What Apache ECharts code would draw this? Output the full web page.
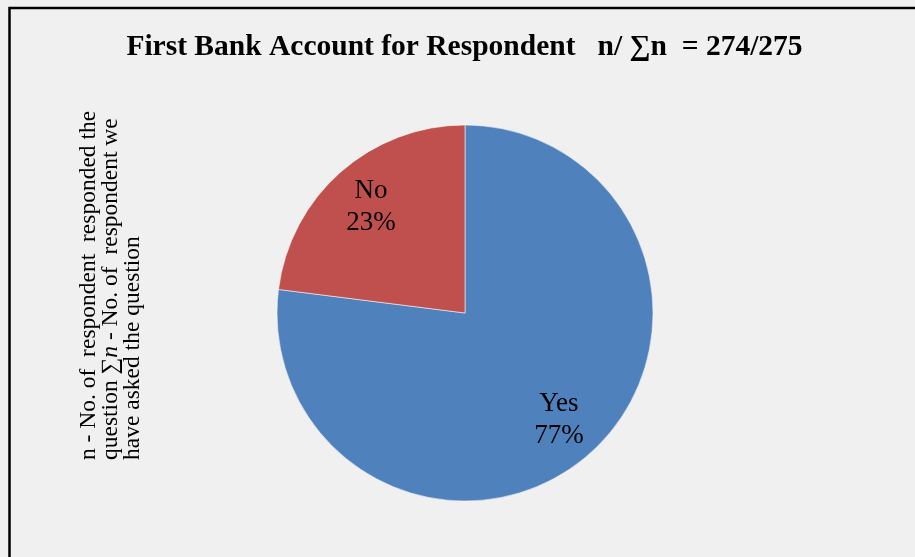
<!DOCTYPE html>
<html>
<head>
<meta charset="utf-8">
<script src="https://cdn.jsdelivr.net/npm/echarts@6/dist/echarts.min.js"></script>
<style>
  html, body { margin: 0; padding: 0; background: #f0f0f0; }
  #chart { width: 915px; height: 557px; }
</style>
</head>
<body>
<div id="chart"></div>
<script>
// Survey answers: share of respondents who have a first bank account
const categories = ['Yes', 'No'];
const shares = [77, 23];
const sliceColors = ['#4f81bd', '#c0504d'];

const titleText = 'First Bank Account for Respondent   n/ \u2211n  = 274/275';
// side note, one entry per line; {i|...} marks the italic math symbol
const noteLines = [
  '{r|n - No. of  respondent  responded the}',
  '{r|question \u2211}{i|n}{r| - No. of  respondent we}',
  '{r|have asked the question}'
];

const serif = '"Liberation Serif", "Times New Roman", serif';

const pieData = categories.map((name, i) => ({
  name: name,
  value: shares[i],
  itemStyle: { color: sliceColors[i] }
}));

const chart = echarts.init(document.getElementById('chart'), null, { renderer: 'canvas' });

const noteX = [89, 111, 133];

chart.setOption({
  backgroundColor: '#f0f0f0',
  animation: false,
  graphic: [
    {
      type: 'rect',
      shape: { x: 9.5, y: 8, width: 1000, height: 1000 },
      style: { fill: 'none', stroke: '#000', lineWidth: 2.5 },
      silent: true
    },
    {
      type: 'text',
      x: 464.5,
      y: 47.5,
      style: {
        text: titleText,
        font: 'bold 29.5px ' + serif,
        fill: '#000',
        align: 'center',
        verticalAlign: 'middle'
      },
      silent: true
    }
  ].concat(noteLines.map((line, i) => ({
    type: 'text',
    x: noteX[i],
    y: 460,
    rotation: Math.PI / 2,
    style: {
      text: line,
      align: 'left',
      verticalAlign: 'middle',
      rich: {
        r: { fontFamily: serif, fontSize: 23.5, fill: '#000' },
        i: { fontFamily: serif, fontSize: 23.5, fontStyle: 'italic', fill: '#000' }
      }
    },
    silent: true
  }))),
  series: [
    {
      type: 'pie',
      center: [465, 313],
      radius: [0, 188],
      startAngle: 90,
      clockwise: true,
      silent: true,
      label: { show: false },
      labelLine: { show: false },
      itemStyle: { borderColor: 'rgba(255,255,255,0.55)', borderWidth: 1 },
      data: pieData
    },
    {
      // label ring: transparent slices that carry the category/percent text
      type: 'pie',
      center: [465, 313],
      radius: [100, 178],
      startAngle: 90,
      clockwise: true,
      silent: true,
      avoidLabelOverlap: false,
      itemStyle: { color: 'rgba(0,0,0,0)' },
      label: {
        show: true,
        position: 'inside',
        formatter: p => p.name + '\n' + Math.round(p.percent) + '%',
        fontFamily: serif,
        fontSize: 27,
        lineHeight: 32,
        color: '#000'
      },
      labelLine: { show: false },
      data: categories.map((name, i) => ({ name: name, value: shares[i] }))
    }
  ]
});
</script>
</body>
</html>
